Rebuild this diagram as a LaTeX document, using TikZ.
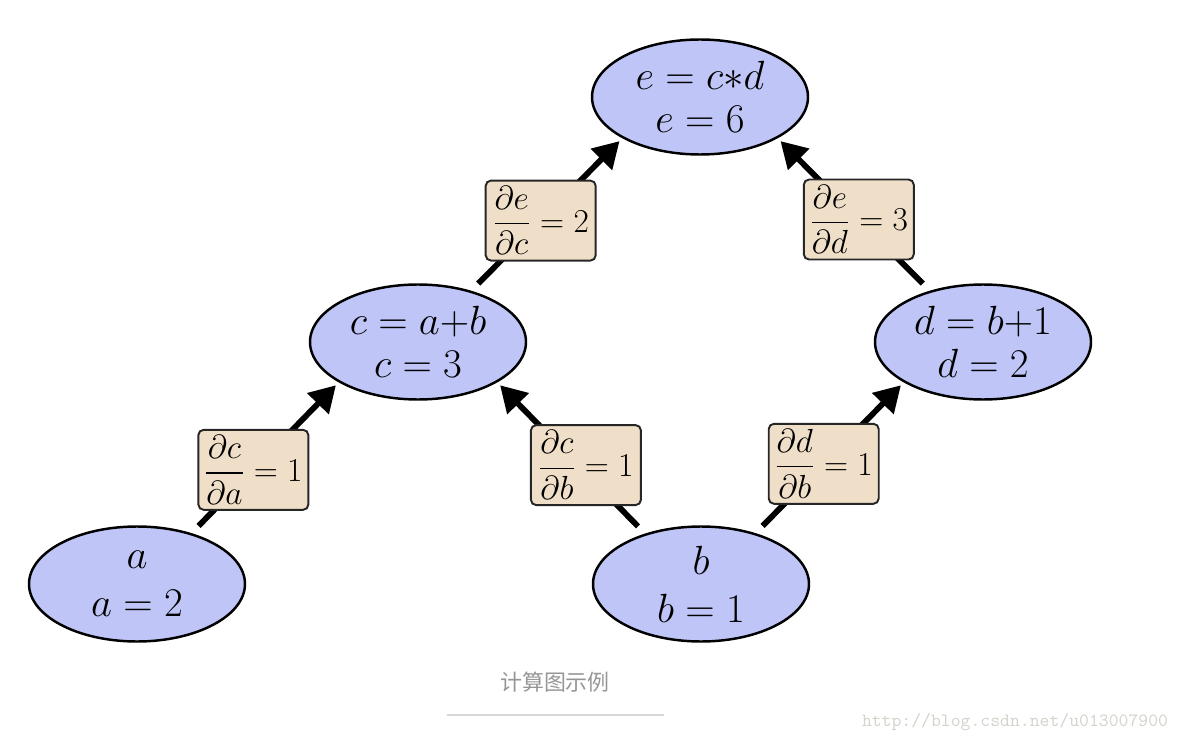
\RequirePackage{fix-cm}
\documentclass[tikz,border=0pt]{standalone}
\usepackage{amsmath}
\usepackage{fontspec}
\newfontfamily\cjk{Noto Sans CJK SC}
\usetikzlibrary{arrows.meta,positioning,shapes.geometric}
\definecolor{nodeBlue}{RGB}{191,197,246}
\definecolor{gradTan}{RGB}{240,223,200}
\definecolor{capGray}{RGB}{150,150,150}
\definecolor{ruleGray}{RGB}{215,215,215}
\definecolor{markGray}{RGB}{212,212,205}

\begin{document}
\begin{tikzpicture}[
  on grid,
  val/.style={ellipse,draw,line width=1.4pt,fill=nodeBlue,minimum width=4.32cm,minimum height=2.3cm,inner sep=0pt,align=center,font=\fontsize{23.2}{24.4}\selectfont},
  grad/.style={draw=black!85,line width=1.1pt,rounded corners=3pt,fill=gradTan,inner xsep=2pt,inner ysep=3pt,minimum width=2.2cm,minimum height=1.6cm,font=\fontsize{19}{22}\selectfont},
  arrow/.style={-{Triangle[length=14.7pt,width=16.5pt]},line width=3.3pt,shorten <=0.2cm,shorten >=0.08cm}
]
  \useasboundingbox (-2.74,-3.18) rectangle (20.88,11.68);
  % values
  \node[val] (a) {$a$\\[2.8pt]$a=2$};
  \node[val,right=11.28cm of a] (b) {$b$\\[2.8pt]$b=1$};
  \node[val,above right=4.84cm and 5.62cm of a] (c) {$c=a{+}b$\\$c=3$};
  \node[val,above right=4.84cm and 5.64cm of b] (d) {$d=b{+}1$\\$d=2$};
  \node[val,above right=4.9cm and 5.64cm of c] (e) {$e=c{*}d$\\$e=6$};
  % edges with partial derivatives
  \draw[arrow] (a.43) -- node[grad,pos=0.42] (gca) {$\displaystyle\frac{\partial c}{\partial a}=1$} (c.207);
  \draw[arrow] (b.138) -- node[grad,pos=0.40,yshift=0.16cm] (gcb) {$\displaystyle\frac{\partial c}{\partial b}=1$} (c.333);
  \draw[arrow] (b.43) -- node[grad,pos=0.46] (gdb) {$\displaystyle\frac{\partial d}{\partial b}=1$} (d.207);
  \draw[arrow] (d.136) -- node[grad,pos=0.467] (ged) {$\displaystyle\frac{\partial e}{\partial d}=3$} (e.332);
  \draw[arrow] (c.44) -- node[grad,pos=0.46] (gec) {$\displaystyle\frac{\partial e}{\partial c}=2$} (e.208);
  % caption
  \node[font=\cjk\fontsize{12.5}{15}\selectfont,text=capGray] (cap) at (8.36,-1.96) {计算图示例};
  \draw[ruleGray,line width=1.1pt] (6.2,-2.62) -- (10.54,-2.62);
  \node[font=\ttfamily\fontsize{10.7}{12}\selectfont,text=markGray] (mark) at (17.56,-2.76) {http://blog.csdn.net/u013007900};
\end{tikzpicture}
\end{document}
